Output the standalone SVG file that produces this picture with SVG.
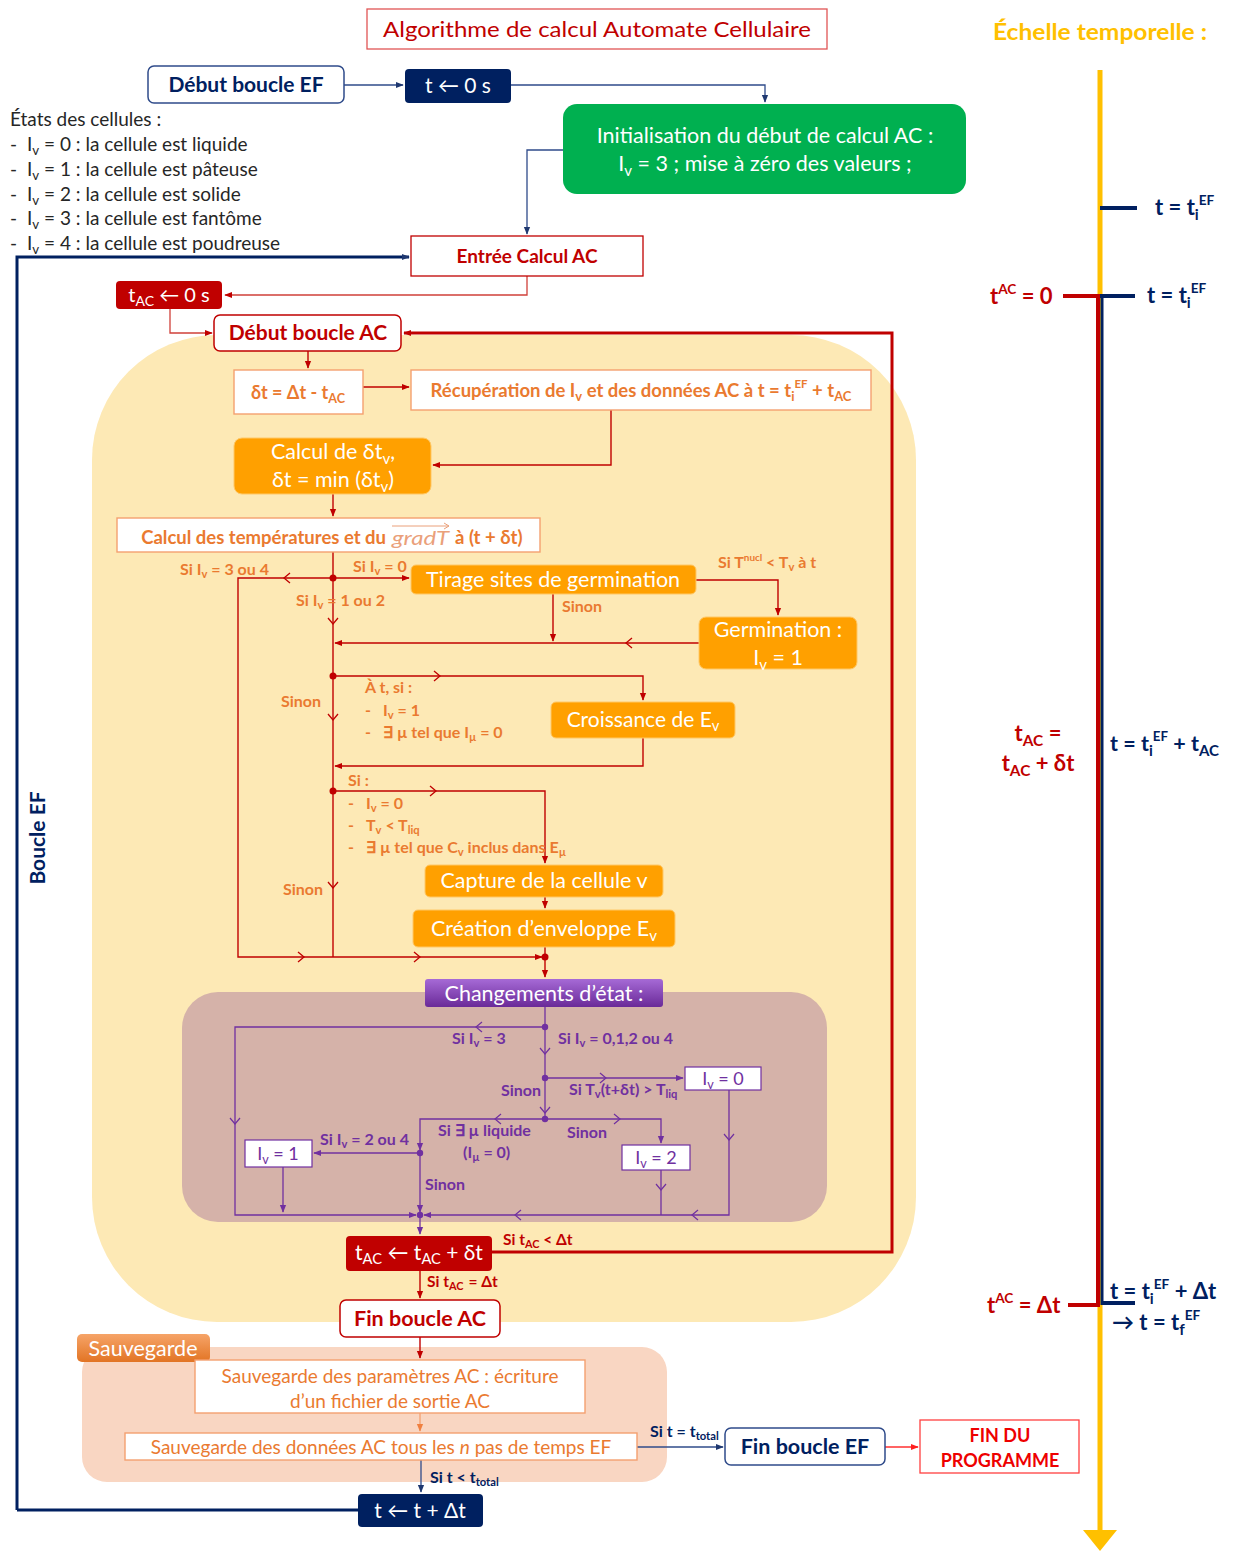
<svg xmlns="http://www.w3.org/2000/svg" xmlns:xlink="http://www.w3.org/1999/xlink" width="1235" height="1551" viewBox="0 0 1235 1551">
<style>
text{font-family:Lato,'Liberation Sans',sans-serif;}
.b{font-weight:bold}
.c{text-anchor:middle}
.nav{fill:#002060}
.red{fill:#c00000}
.org{fill:#ea7a30}
.pur{fill:#7030a0}
.wh{fill:#ffffff}
.gry{fill:#262626}
.sb{font-size:70%;baseline-shift:-0.3em}
.sp{font-size:62%;baseline-shift:0.75em}
.lr{fill:none;stroke:#c00000;stroke-width:1.4}
.lr2{fill:none;stroke:#d0403a;stroke-width:1.3}
.ln{fill:none;stroke:#2f4b8a;stroke-width:1.3}
.lp{fill:none;stroke:#7030a0;stroke-width:1.3}
.lo{fill:none;stroke:#f4a070;stroke-width:1.3}
.ob{fill:#ffffff;stroke:#f4a070;stroke-width:1.4}
.of{fill:#ffa000;stroke:#ffc866;stroke-width:1}
.pb{fill:#ffffff;stroke:#7030a0;stroke-width:1.2}
.dot{fill:#c00000}
.pdot{fill:#7030a0}
</style>
<defs>
<marker id="aR" viewBox="0 0 10 10" refX="9" refY="5" markerWidth="8" markerHeight="8" orient="auto" markerUnits="userSpaceOnUse"><path d="M0,1 L10,5 L0,9 z" fill="#c00000"/></marker>
<marker id="aN" viewBox="0 0 10 10" refX="9" refY="5" markerWidth="8" markerHeight="8" orient="auto" markerUnits="userSpaceOnUse"><path d="M0,1 L10,5 L0,9 z" fill="#1f3870"/></marker>
<marker id="aP" viewBox="0 0 10 10" refX="9" refY="5" markerWidth="8" markerHeight="8" orient="auto" markerUnits="userSpaceOnUse"><path d="M0,1 L10,5 L0,9 z" fill="#7030a0"/></marker>
<marker id="aO" viewBox="0 0 10 10" refX="9" refY="5" markerWidth="8" markerHeight="8" orient="auto" markerUnits="userSpaceOnUse"><path d="M0,1 L10,5 L0,9 z" fill="#f08040"/></marker>
<marker id="aB" viewBox="0 0 10 10" refX="9" refY="5" markerWidth="8" markerHeight="8" orient="auto" markerUnits="userSpaceOnUse"><path d="M0,1 L10,5 L0,9 z" fill="#ff2020"/></marker>
<path id="chv" d="M-6,-5 L0,0 L-6,5" fill="none"/>
<linearGradient id="gPur" x1="0" y1="0" x2="0" y2="1"><stop offset="0" stop-color="#a66ad6"/><stop offset="1" stop-color="#6a2a98"/></linearGradient>
<linearGradient id="gSav" x1="0" y1="0" x2="0" y2="1"><stop offset="0" stop-color="#f6a468"/><stop offset="1" stop-color="#e27424"/></linearGradient>
</defs>

<!-- backgrounds -->
<rect x="92" y="335" width="824" height="987" rx="125" fill="#fde9b5"/>
<rect x="182" y="992" width="645" height="230" rx="36" fill="#d5b2a9"/>
<rect x="82" y="1347" width="585" height="135" rx="25" fill="#f9d6c2"/>

<!-- title & legend -->
<g id="title">
<rect x="367" y="9" width="460" height="40" fill="#fff" stroke="#e05555" stroke-width="1.3"/>
<text x="597" y="37" class="c red" font-size="22" textLength="428" lengthAdjust="spacingAndGlyphs">Algorithme de calcul Automate Cellulaire</text>
</g>
<g id="legend">
<text x="10" y="126" class="gry" font-size="19">États des cellules :</text>
<text x="10" y="151" class="gry" font-size="19">-<tspan x="27">I</tspan><tspan class="sb">v</tspan> = 0 : la cellule est liquide</text>
<text x="10" y="176" class="gry" font-size="19">-<tspan x="27">I</tspan><tspan class="sb">v</tspan> = 1 : la cellule est pâteuse</text>
<text x="10" y="201" class="gry" font-size="19">-<tspan x="27">I</tspan><tspan class="sb">v</tspan> = 2 : la cellule est solide</text>
<text x="10" y="225" class="gry" font-size="19">-<tspan x="27">I</tspan><tspan class="sb">v</tspan> = 3 : la cellule est fantôme</text>
<text x="10" y="250" class="gry" font-size="19">-<tspan x="27">I</tspan><tspan class="sb">v</tspan> = 4 : la cellule est poudreuse</text>
</g>

<!-- connectors -->
<g id="connectors">
<path class="ln" d="M344,85 H403" marker-end="url(#aN)"/>
<path class="ln" d="M511,85 H765 V102" marker-end="url(#aN)"/>
<path class="ln" d="M563,150 H527 V234" marker-end="url(#aN)"/>
<path class="lr2" d="M527,276 V295 H225" marker-end="url(#aR)"/>
<path class="lr2" d="M170,309 V333 H212" marker-end="url(#aR)"/>
<path d="M17,1510 V257 H409" fill="none" stroke="#002060" stroke-width="3" marker-end="url(#aN)"/>
<path d="M358,1510 H17" fill="none" stroke="#002060" stroke-width="3"/>
<path d="M492,1252 H892 V333 H404" fill="none" stroke="#c00000" stroke-width="3" marker-end="url(#aR)"/>
<path class="lr" d="M308,351 V368" marker-end="url(#aR)"/>
<path class="lr" d="M363,387 H409" marker-end="url(#aR)"/>
<path class="lr" d="M611,410 V465 H433" marker-end="url(#aR)"/>
<path class="lr" d="M333,494 V516" marker-end="url(#aR)"/>
<path class="lr" d="M333,552 V957"/>
<path class="lr" d="M333,578 H409" marker-end="url(#aR)"/>
<path class="lr" d="M333,578 H238 V957 H542" marker-end="url(#aR)"/>
<path class="lr" d="M696,580 H778 V615" marker-end="url(#aR)"/>
<path class="lr" d="M553,594 V641" marker-end="url(#aR)"/>
<path class="lr" d="M699,643 H335" marker-end="url(#aR)"/>
<path class="lr" d="M333,676 H643 V700" marker-end="url(#aR)"/>
<path class="lr" d="M643,738 V766 H335" marker-end="url(#aR)"/>
<path class="lr" d="M333,791 H545 V863" marker-end="url(#aR)"/>
<path class="lr" d="M545,897 V908" marker-end="url(#aR)"/>
<path class="lr" d="M545,947 V977" marker-end="url(#aR)"/>
<g stroke="#c00000" stroke-width="1.3">
<use xlink:href="#chv" transform="translate(284,578) rotate(180)"/>
<use xlink:href="#chv" transform="translate(333,624) rotate(90)"/>
<use xlink:href="#chv" transform="translate(626,643) rotate(180)"/>
<use xlink:href="#chv" transform="translate(440,676)"/>
<use xlink:href="#chv" transform="translate(333,720) rotate(90)"/>
<use xlink:href="#chv" transform="translate(436,791)"/>
<use xlink:href="#chv" transform="translate(333,888) rotate(90)"/>
<use xlink:href="#chv" transform="translate(304,957)"/>
<use xlink:href="#chv" transform="translate(420,957)"/>
</g>
<circle class="dot" cx="333" cy="578" r="3.5"/>
<circle class="dot" cx="333" cy="676" r="3.5"/>
<circle class="dot" cx="333" cy="791" r="3.5"/>
<circle class="dot" cx="545" cy="957" r="3.5"/>
<!-- changements -->
<path class="lp" d="M545,1007 V1119"/>
<path class="lp" d="M545,1027 H235 V1215 H416" marker-end="url(#aP)"/>
<path class="lp" d="M545,1078 H683" marker-end="url(#aP)"/>
<path class="lp" d="M729,1090 V1215 H424" marker-end="url(#aP)"/>
<path class="lp" d="M545,1119 H420 V1150" marker-end="url(#aP)"/>
<path class="lp" d="M545,1119 H661 V1143" marker-end="url(#aP)"/>
<path class="lp" d="M661,1170 V1215"/>
<path class="lp" d="M420,1153 H314" marker-end="url(#aP)"/>
<path class="lp" d="M283,1167 V1212" marker-end="url(#aP)"/>
<path class="lp" d="M420,1153 V1212" marker-end="url(#aP)"/>
<path class="lp" d="M420,1215 V1234" marker-end="url(#aP)"/>
<g stroke="#7030a0" stroke-width="1.2">
<use xlink:href="#chv" transform="translate(476,1027) rotate(180)"/>
<use xlink:href="#chv" transform="translate(545,1054) rotate(90)"/>
<use xlink:href="#chv" transform="translate(545,1113) rotate(90)"/>
<use xlink:href="#chv" transform="translate(235,1124) rotate(90)"/>
<use xlink:href="#chv" transform="translate(606,1078)"/>
<use xlink:href="#chv" transform="translate(729,1140) rotate(90)"/>
<use xlink:href="#chv" transform="translate(495,1119) rotate(180)"/>
<use xlink:href="#chv" transform="translate(620,1119)"/>
<use xlink:href="#chv" transform="translate(661,1190) rotate(90)"/>
<use xlink:href="#chv" transform="translate(692,1215) rotate(180)"/>
<use xlink:href="#chv" transform="translate(515,1215) rotate(180)"/>
</g>
<circle class="pdot" cx="545" cy="1027" r="3.2"/>
<circle class="pdot" cx="545" cy="1078" r="3.2"/>
<circle class="pdot" cx="545" cy="1119" r="3.2"/>
<circle class="pdot" cx="420" cy="1153" r="3.2"/>
<circle class="pdot" cx="420" cy="1215" r="3.2"/>
<!-- bottom -->
<path class="lr" d="M420,1271 V1298" marker-end="url(#aR)"/>
<path class="lr" d="M420,1337 V1358" marker-end="url(#aR)"/>
<path class="lo" d="M420,1413 V1431" marker-end="url(#aO)"/>
<path class="ln" d="M637,1447 H723" marker-end="url(#aN)"/>
<path fill="none" stroke="#ff3030" stroke-width="1.3" d="M885,1447 H918" marker-end="url(#aB)"/>
<path class="ln" d="M421,1460 V1492" marker-end="url(#aN)"/>
</g>

<!-- connector labels -->
<g id="labels" font-size="16" font-weight="bold">
<text x="180" y="575" class="org">Si I<tspan class="sb">v</tspan> = 3 ou 4</text>
<text x="353" y="572" class="org">Si I<tspan class="sb">v</tspan> = 0</text>
<text x="296" y="606" class="org">Si I<tspan class="sb">v</tspan> = 1 ou 2</text>
<text x="562" y="612" class="org">Sinon</text>
<text x="718" y="568" class="org">Si T<tspan class="sp">nucl</tspan> &lt; T<tspan class="sb">v</tspan> à t</text>
<text x="365" y="693" class="org">À t, si :</text>
<text x="365" y="716" class="org">-<tspan x="383">I</tspan><tspan class="sb">v</tspan> = 1</text>
<text x="365" y="738" class="org">-<tspan x="383">∃ µ tel que I</tspan><tspan class="sb">µ</tspan> = 0</text>
<text x="281" y="707" class="org">Sinon</text>
<text x="348" y="786" class="org">Si :</text>
<text x="348" y="809" class="org">-<tspan x="366">I</tspan><tspan class="sb">v</tspan> = 0</text>
<text x="348" y="831" class="org">-<tspan x="366">T</tspan><tspan class="sb">v</tspan> &lt; T<tspan class="sb">liq</tspan></text>
<text x="348" y="853" class="org">-<tspan x="366">∃ µ tel que C</tspan><tspan class="sb">v</tspan> inclus dans E<tspan class="sb">µ</tspan></text>
<text x="283" y="895" class="org">Sinon</text>
<text x="452" y="1044" class="pur">Si I<tspan class="sb">v</tspan> = 3</text>
<text x="558" y="1044" class="pur">Si I<tspan class="sb">v</tspan> = 0,1,2 ou 4</text>
<text x="501" y="1096" class="pur">Sinon</text>
<text x="569" y="1095" class="pur">Si T<tspan class="sb">v</tspan>(t+δt) &gt; T<tspan class="sb">liq</tspan></text>
<text x="438" y="1136" class="pur">Si ∃ µ liquide</text>
<text x="463" y="1158" class="pur">(I<tspan class="sb">µ</tspan> = 0)</text>
<text x="567" y="1138" class="pur">Sinon</text>
<text x="320" y="1145" class="pur">Si I<tspan class="sb">v</tspan> = 2 ou 4</text>
<text x="425" y="1190" class="pur">Sinon</text>
<text x="503" y="1245" class="red" font-size="15.5">Si t<tspan class="sb">AC</tspan> &lt; Δt</text>
<text x="427" y="1287" class="red" font-size="15.5">Si t<tspan class="sb">AC</tspan><tspan dx="5">= Δt</tspan></text>
<text x="650" y="1437" class="nav">Si t = t<tspan class="sb">total</tspan></text>
<text x="430" y="1483" class="nav">Si t &lt; t<tspan class="sb">total</tspan></text>
</g>

<text transform="translate(45,838) rotate(-90)" class="c b nav" font-size="21">Boucle EF</text>

<!-- nodes -->
<g id="n-debut-ef"><rect x="148" y="66" width="196" height="37" rx="6" fill="#fff" stroke="#2f4b8a" stroke-width="1.5"/><text x="246" y="92" class="c b nav" font-size="21">Début boucle EF</text></g>
<g id="n-t0"><rect x="405" y="69" width="106" height="34" rx="4" fill="#002060"/><text x="458" y="93" class="c wh" font-size="21">t ← 0 s</text></g>
<g id="n-init"><rect x="563" y="104" width="403" height="90" rx="14" fill="#00b050"/><text x="765" y="143" class="c wh" font-size="21.5">Initialisation du début de calcul AC :</text><text x="765" y="171" class="c wh" font-size="21.5">I<tspan class="sb">v</tspan> = 3 ; mise à zéro des valeurs ;</text></g>
<g id="n-entree"><rect x="411" y="236" width="232" height="40" fill="#fff" stroke="#c00000" stroke-width="1.3"/><text x="527" y="263" class="c b red" font-size="19">Entrée Calcul AC</text></g>
<g id="n-tac0"><rect x="116" y="281" width="106" height="28" rx="4" fill="#c00000"/><text x="169" y="302" class="c wh" font-size="20">t<tspan class="sb">AC</tspan> ← 0 s</text></g>
<g id="n-debut-ac"><rect x="214" y="315" width="187" height="36" rx="6" fill="#fff" stroke="#c00000" stroke-width="1.5"/><text x="308" y="340" class="c b red" font-size="21">Début boucle AC</text></g>
<g id="n-dt"><rect x="234" y="370" width="129" height="44" class="ob"/><text x="298" y="399" class="c b org" font-size="18">δt = Δt - t<tspan class="sb">AC</tspan></text></g>
<g id="n-recup"><rect x="411" y="370" width="460" height="40" class="ob"/><text x="641" y="397" class="c b org" font-size="18.5">Récupération de I<tspan class="sb">v</tspan> et des données AC à t = t<tspan class="sb">i</tspan><tspan class="sp">EF</tspan> + t<tspan class="sb">AC</tspan></text></g>
<g id="n-calcdt"><rect x="234" y="438" width="197" height="56" rx="8" class="of"/><text x="333" y="459" class="c wh" font-size="21.5">Calcul de δt<tspan class="sb">v</tspan>,</text><text x="333" y="487" class="c wh" font-size="21.5">δt = min (δt<tspan class="sb">v</tspan>)</text></g>
<g id="n-temp"><rect x="117" y="518" width="423" height="34" class="ob"/>
<text x="386" y="544" class="b org" font-size="18.5" text-anchor="end">Calcul des températures et du</text>
<text x="392" y="545" font-family="'Liberation Serif',serif" font-style="italic" fill="#eaa07a" font-size="20" textLength="57" lengthAdjust="spacingAndGlyphs">gradT</text>
<text x="455" y="544" class="b org" font-size="18.5">à (t + δt)</text>
<path d="M392,526 H449 M444,523 L449,526 L444,529" fill="none" stroke="#eaa07a" stroke-width="1"/></g>
<g id="n-tirage"><rect x="411" y="565" width="285" height="29" rx="5" class="of"/><text x="553" y="587" class="c wh" font-size="21.5">Tirage sites de germination</text></g>
<g id="n-germ"><rect x="699" y="617" width="158" height="52" rx="7" class="of"/><text x="778" y="637" class="c wh" font-size="21.5">Germination :</text><text x="778" y="665" class="c wh" font-size="21.5">I<tspan class="sb">v</tspan> = 1</text></g>
<g id="n-croiss"><rect x="551" y="702" width="184" height="36" rx="5" class="of"/><text x="643" y="727" class="c wh" font-size="21">Croissance de E<tspan class="sb">v</tspan></text></g>
<g id="n-capture"><rect x="425" y="865" width="238" height="32" rx="5" class="of"/><text x="544" y="888" class="c wh" font-size="21.5">Capture de la cellule v</text></g>
<g id="n-creation"><rect x="413" y="910" width="262" height="37" rx="5" class="of"/><text x="544" y="936" class="c wh" font-size="21.5">Création d’enveloppe E<tspan class="sb">v</tspan></text></g>
<g id="n-chgt"><rect x="425" y="979" width="238" height="28" rx="3" fill="url(#gPur)"/><text x="544" y="1001" class="c wh" font-size="21.5">Changements d’état :</text></g>
<g id="n-iv0"><rect x="685" y="1067" width="76" height="23" class="pb"/><text x="723" y="1085" class="c pur" font-size="18">I<tspan class="sb">v</tspan> = 0</text></g>
<g id="n-iv2"><rect x="622" y="1145" width="68" height="25" class="pb"/><text x="656" y="1164" class="c pur" font-size="18">I<tspan class="sb">v</tspan> = 2</text></g>
<g id="n-iv1"><rect x="245" y="1140" width="67" height="27" class="pb"/><text x="278" y="1160" class="c pur" font-size="18">I<tspan class="sb">v</tspan> = 1</text></g>
<g id="n-tacinc"><rect x="346" y="1236" width="146" height="35" rx="4" fill="#c00000"/><text x="419" y="1260" class="c wh" font-size="21">t<tspan class="sb">AC</tspan> ← t<tspan class="sb">AC</tspan> + δt</text></g>
<g id="n-fin-ac"><rect x="340" y="1300" width="160" height="37" rx="6" fill="#fff" stroke="#c00000" stroke-width="1.5"/><text x="420" y="1326" class="c b red" font-size="21.5">Fin boucle AC</text></g>
<g id="n-sauv-tab"><rect x="77" y="1334" width="133" height="28" rx="5" fill="url(#gSav)"/><text x="143" y="1356" class="c wh" font-size="21.5">Sauvegarde</text></g>
<g id="n-params"><rect x="195" y="1360" width="390" height="53" class="ob"/><text x="390" y="1383" class="c org" font-size="19">Sauvegarde des paramètres AC : écriture</text><text x="390" y="1408" class="c org" font-size="19">d’un fichier de sortie AC</text></g>
<g id="n-donnees"><rect x="125" y="1433" width="512" height="27" class="ob"/><text x="381" y="1454" class="c org" font-size="19">Sauvegarde des données AC tous les <tspan font-style="italic">n</tspan> pas de temps EF</text></g>
<g id="n-fin-ef"><rect x="725" y="1428" width="160" height="37" rx="6" fill="#fff" stroke="#2f4b8a" stroke-width="1.5"/><text x="805" y="1454" class="c b nav" font-size="21.5">Fin boucle EF</text></g>
<g id="n-fin-prog"><rect x="920" y="1420" width="159" height="53" fill="#fff" stroke="#ff4040" stroke-width="1.3"/><text x="1000" y="1442" class="c b" fill="#ee0000" font-size="18">FIN DU</text><text x="1000" y="1467" class="c b" fill="#ee0000" font-size="18">PROGRAMME</text></g>
<g id="n-tinc"><rect x="358" y="1494" width="125" height="33" rx="4" fill="#002060"/><text x="420" y="1518" class="c wh" font-size="21">t ← t + Δt</text></g>

<!-- timeline -->
<g id="timeline">
<text x="993" y="40" class="b" fill="#ffc000" font-size="22" textLength="214" lengthAdjust="spacingAndGlyphs">Échelle temporelle :</text>
<line x1="1100" y1="70" x2="1100" y2="1532" stroke="#ffc000" stroke-width="5"/>
<polygon points="1083,1530 1117,1530 1100,1551" fill="#ffc000"/>
<line x1="1100" y1="208" x2="1137" y2="208" stroke="#002060" stroke-width="4"/>
<text x="1155" y="215" class="b nav" font-size="22">t = t<tspan class="sb">i</tspan><tspan class="sp">EF</tspan></text>
<line x1="1098" y1="296" x2="1098" y2="1305" stroke="#c00000" stroke-width="4"/>
<line x1="1102" y1="296" x2="1102" y2="1305" stroke="#002060" stroke-width="3"/>
<line x1="1063" y1="296" x2="1100" y2="296" stroke="#c00000" stroke-width="4"/>
<line x1="1100" y1="296" x2="1135" y2="296" stroke="#002060" stroke-width="4"/>
<line x1="1068" y1="1305" x2="1100" y2="1305" stroke="#c00000" stroke-width="4"/>
<line x1="1102" y1="1303" x2="1135" y2="1303" stroke="#002060" stroke-width="4"/>
<text x="990" y="304" class="b red" font-size="22">t<tspan class="sp">AC</tspan> = 0</text>
<text x="1147" y="303" class="b nav" font-size="22">t = t<tspan class="sb">i</tspan><tspan class="sp">EF</tspan></text>
<text x="1038" y="741" class="c b red" font-size="22">t<tspan class="sb">AC</tspan> =</text>
<text x="1038" y="771" class="c b red" font-size="22">t<tspan class="sb">AC</tspan> + δt</text>
<text x="1110" y="751" class="b nav" font-size="21.5">t = t<tspan class="sb">i</tspan><tspan class="sp">EF</tspan> + t<tspan class="sb">AC</tspan></text>
<text x="987" y="1313" class="b red" font-size="22">t<tspan class="sp">AC</tspan> = Δt</text>
<text x="1110" y="1299" class="b nav" font-size="22">t = t<tspan class="sb">i</tspan><tspan class="sp">EF</tspan> + Δt</text>
<text x="1112" y="1330" class="b nav" font-size="22">→ t = t<tspan class="sb">f</tspan><tspan class="sp">EF</tspan></text>
</g>
</svg>
